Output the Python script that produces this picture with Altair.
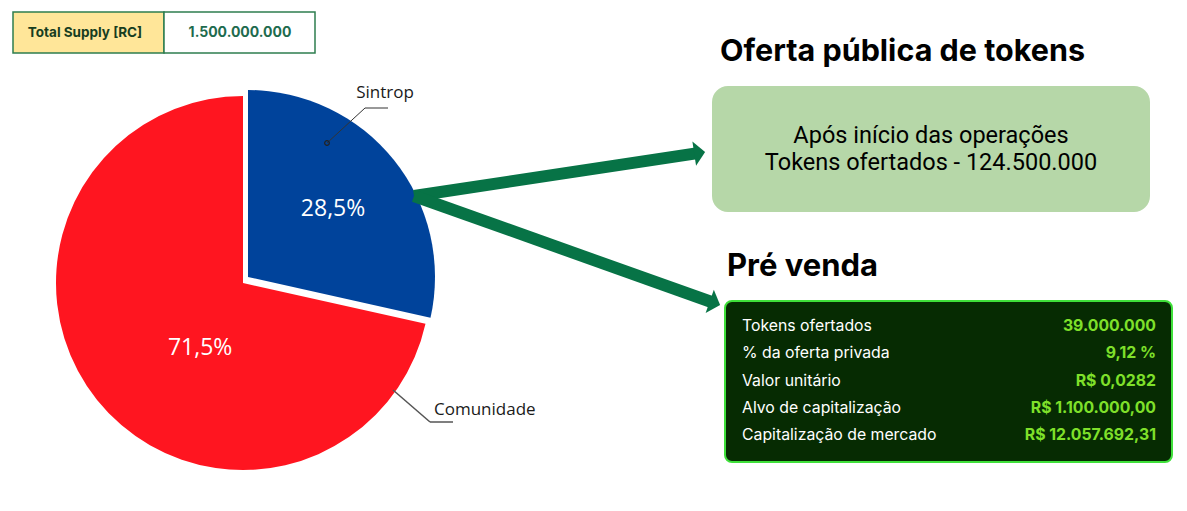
import math
import altair as alt
import pandas as pd

# ---------------- data ----------------
categories = ["Sintrop", "Comunidade"]
shares = [28.5, 71.5]
share_labels = ["28,5%", "71,5%"]
slice_colors = ["#00439B", "#FF1520"]

supply_label = "Total Supply [RC]"
supply_value = "1.500.000.000"

public_title = "Oferta pública de tokens"
public_lines = ["Após início das operações", "Tokens ofertados - 124.500.000"]

presale_title = "Pré venda"
presale_keys = ["Tokens ofertados", "% da oferta privada", "Valor unitário",
                "Alvo de capitalização", "Capitalização de mercado"]
presale_values = ["39.000.000", "9,12 %", "R$ 0,0282", "R$ 1.100.000,00", "R$ 12.057.692,31"]

# ---------------- layout (pixels) ----------------
W, H = 1187, 511
R = 187
RED_C = (243, 283)
BLUE_C = (248, 277)
ARROW_COLOR = "#077346"
ONE = alt.Data(values=[{}])

pie_df = pd.DataFrame({"cat": categories, "share": shares,
                       "label": share_labels, "ord": list(range(len(categories)))})
theta = alt.Theta("share:Q", stack=True)
order = alt.Order("ord:Q")
col = alt.Color("cat:N", scale=alt.Scale(domain=categories, range=slice_colors), legend=None)

def only(name):
    return alt.condition(alt.datum.cat == name, alt.value(1), alt.value(0))

red_arc = alt.Chart(pie_df).mark_arc(x=RED_C[0], y=RED_C[1], outerRadius=R).encode(
    theta=theta, order=order, color=col, opacity=only("Comunidade"))
blue_arc = alt.Chart(pie_df).mark_arc(x=BLUE_C[0], y=BLUE_C[1], outerRadius=R).encode(
    theta=theta, order=order, color=col, opacity=only("Sintrop"))

blue_lbl = alt.Chart(pie_df).mark_text(x=BLUE_C[0], y=BLUE_C[1], radius=109, font="Open Sans",
                                       fontSize=23, color="white").encode(
    theta=theta, order=order, detail="cat:N", text="label:N", opacity=only("Sintrop"))
red_lbl = alt.Chart(pie_df).mark_text(x=RED_C[0], y=RED_C[1], radius=78, dx=18, dy=16,
                                      font="Open Sans", fontSize=23, color="white").encode(
    theta=theta, order=order, detail="cat:N", text="label:N", opacity=only("Comunidade"))

layers = [red_arc, blue_arc, blue_lbl, red_lbl]

def seg(x1, y1, x2, y2, color, w, cap="butt"):
    return alt.Chart(ONE).mark_rule(color=color, strokeWidth=w, strokeCap=cap).encode(
        x=alt.value(x1), y=alt.value(y1), x2=alt.value(x2), y2=alt.value(y2))

def txt(s, x, y, size, color="black", weight="normal", align="center", font="Inter", baseline="middle"):
    return alt.Chart(ONE).mark_text(text=s, fontSize=size, color=color, fontWeight=weight,
                                    align=align, baseline=baseline, font=font).encode(
        x=alt.value(x), y=alt.value(y))

def box(x1, y1, x2, y2, fill, stroke=None, sw=0, radius=0):
    kw = dict(fill=fill, cornerRadius=radius)
    if stroke:
        kw.update(stroke=stroke, strokeWidth=sw)
    return alt.Chart(ONE).mark_rect(**kw).encode(
        x=alt.value(x1), y=alt.value(y1), x2=alt.value(x2), y2=alt.value(y2))

# leader lines
layers += [
    seg(327, 143, 365, 108, "#333333", 1),
    seg(365, 108, 388, 108, "#333333", 1),
    alt.Chart(ONE).mark_point(shape="circle", size=22, stroke="#222222", strokeWidth=1.2,
                              filled=False, opacity=1).encode(x=alt.value(327), y=alt.value(143)),
    txt(categories[0], 385, 93, 17, "#1a1a1a", font="Open Sans"),
    seg(393, 390, 430, 422, "#555555", 1.5),
    seg(430, 422, 453, 422, "#555555", 1.5),
    txt(categories[1], 434, 410, 17, "#1a1a1a", align="left", font="Open Sans"),
]

# total supply table
layers += [
    box(13, 12, 164, 53, "#FFE699", "#2E7D4F", 1.5),
    box(164, 12, 315, 53, "#FFFFFF", "#2E7D4F", 1.5),
    txt(supply_label, 85, 33, 13.5, "#173d1f", "bold"),
    txt(supply_value, 240, 33, 14, "#1E6B4E", "bold"),
]

# arrows
def arrow(sx, sy, tx, ty):
    dx, dy = tx - sx, ty - sy
    L = math.hypot(dx, dy)
    ux, uy = dx / L, dy / L
    ang = math.degrees(math.atan2(dy, dx)) % 360
    ex, ey = tx - 9 * ux, ty - 9 * uy
    cx, cy = tx - 6 * ux, ty - 6 * uy
    return [
        seg(sx, sy, ex, ey, ARROW_COLOR, 12),
        alt.Chart(ONE).mark_point(shape="M0.5,0 L-0.4,-1 L-0.4,1 Z", size=600, filled=True,
                                  fill=ARROW_COLOR, opacity=1, angle=ang, strokeWidth=0).encode(
            x=alt.value(cx), y=alt.value(cy)),
    ]

layers += arrow(414, 196, 705, 152)
layers += arrow(414, 196, 720, 305)

# public offer
layers += [
    txt(public_title, 720, 61, 30.5, "black", "bold", align="left", baseline="alphabetic"),
    box(712, 86, 1150, 212, "#B6D7A8", radius=16),
    txt(public_lines[0], 931, 136, 23.5, "black", font="Roboto"),
    txt(public_lines[1], 931, 163, 23.5, "black", font="Roboto"),
]

# pre-sale
presale_df = pd.DataFrame({"key": presale_keys, "val": presale_values,
                           "row": list(range(len(presale_keys)))})
ypos = alt.Y("row:Q", axis=None, scale=alt.Scale(domain=[0, len(presale_keys) - 1], range=[326, 435]))
layers += [
    txt(presale_title, 727, 276, 31, "black", "bold", align="left", baseline="alphabetic"),
    box(725, 301, 1172, 462, "#062B02", "#3FE03A", 2, radius=7),
    alt.Chart(presale_df).mark_text(align="left", baseline="middle", font="Inter", fontSize=15.8,
                                    color="white").encode(x=alt.value(742), y=ypos, text="key:N"),
    alt.Chart(presale_df).mark_text(align="right", baseline="middle", font="Inter", fontSize=15.8,
                                    fontWeight="bold", color="#7FE02A").encode(
        x=alt.value(1156), y=ypos, text="val:N"),
]

chart = alt.layer(*layers).properties(
    width=W, height=H, padding=0, autosize=alt.AutoSizeParams(type="none"),
    background="white"
).configure_view(strokeWidth=0)

chart.save("out.html", embed_options={"renderer": "svg", "actions": False})
